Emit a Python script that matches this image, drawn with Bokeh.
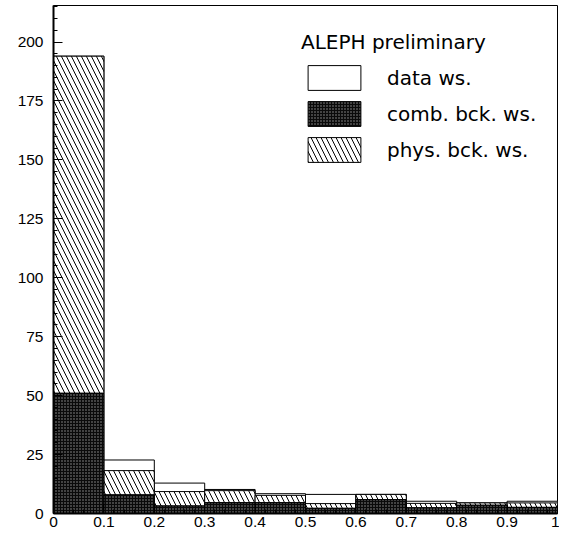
from bokeh.plotting import figure
from bokeh.models import Range1d, FixedTicker, Legend, LegendItem
from bokeh.embed import file_html
from bokeh.resources import INLINE

# ---- data ----
bin_lo = [0.0, 0.1, 0.2, 0.3, 0.4, 0.5, 0.6, 0.7, 0.8, 0.9]
bin_hi = [0.1, 0.2, 0.3, 0.4, 0.5, 0.6, 0.7, 0.8, 0.9, 1.0]
data_ws = [194.0, 22.7, 12.9, 10.2, 8.4, 8.1, 8.1, 5.2, 4.5, 5.2]
comb_bck = [51.0, 7.9, 3.2, 4.6, 4.6, 2.2, 5.9, 2.4, 3.5, 2.6]
phys_bck = [143.0, 10.3, 6.1, 5.1, 3.1, 2.0, 2.2, 1.9, 1.0, 1.9]

x_ticks = [0.0, 0.1, 0.2, 0.3, 0.4, 0.5, 0.6, 0.7, 0.8, 0.9, 1.0]
x_tick_labels = ["0", "0.1", "0.2", "0.3", "0.4", "0.5", "0.6", "0.7", "0.8", "0.9", "1"]
y_ticks = [0, 25, 50, 75, 100, 125, 150, 175, 200]

stack_top = [c + p for c, p in zip(comb_bck, phys_bck)]

p = figure(width=559, height=529, output_backend="svg", toolbar_location=None,
           x_range=Range1d(0, 1), y_range=Range1d(0, 215.5),
           min_border_left=53, min_border_right=2, min_border_top=5, min_border_bottom=10)
p.xgrid.visible = False
p.ygrid.visible = False
p.outline_line_color = "black"
p.outline_line_width = 1
p.background_fill_color = "white"

r_data = p.quad(left=bin_lo, right=bin_hi, bottom=0, top=data_ws,
                fill_color="white", line_color="black", line_width=1)
r_phys = p.quad(left=bin_lo, right=bin_hi, bottom=comb_bck, top=stack_top,
                fill_color="white", line_color="black", line_width=1,
                hatch_pattern="left_diagonal_line", hatch_color="black",
                hatch_scale=10, hatch_weight=1)
r_comb = p.quad(left=bin_lo, right=bin_hi, bottom=0, top=comb_bck,
                fill_color="#0a0a0a", line_color="black", line_width=1,
                hatch_pattern="dot", hatch_color="#999999",
                hatch_scale=3, hatch_weight=1)

font = "Liberation Sans"
for ax in (p.xaxis[0], p.yaxis[0]):
    ax.axis_line_width = 2
    ax.major_tick_out = 0
    ax.major_tick_in = 9
    ax.minor_tick_out = 0
    ax.minor_tick_in = 4
    ax.major_label_text_font = font
    ax.major_label_text_font_size = "15.5px"
    ax.major_label_text_color = "black"

p.xaxis.ticker = FixedTicker(ticks=x_ticks,
                             minor_ticks=[i * 0.02 for i in range(51)])
p.xaxis.major_label_overrides = {t: l for t, l in zip(x_ticks, x_tick_labels)}
p.xaxis.major_label_standoff = 3
p.yaxis.ticker = FixedTicker(ticks=y_ticks, minor_ticks=list(range(0, 216, 5)))
p.yaxis.major_label_standoff = 10

legend = Legend(items=[LegendItem(label="data ws.", renderers=[r_data]),
                       LegendItem(label="comb. bck. ws.", renderers=[r_comb]),
                       LegendItem(label="phys. bck. ws.", renderers=[r_phys])],
                location=(248, 348), title="ALEPH preliminary",
                title_text_font="DejaVu Sans", title_text_font_size="20px",
                title_text_font_style="normal", title_text_color="black",
                title_standoff=8,
                label_text_font="DejaVu Sans", label_text_font_size="20px",
                label_text_color="black",
                glyph_width=66, glyph_height=31, label_height=31,
                label_standoff=20, spacing=5, padding=0, margin=0,
                border_line_alpha=0, background_fill_alpha=0)
p.add_layout(legend)

open("out.html", "w").write(file_html(p, INLINE))
